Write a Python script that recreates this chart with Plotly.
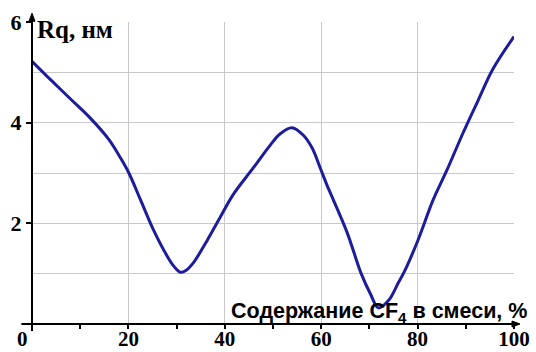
import plotly.graph_objects as go

# data
cf4_percent = [0, 4, 8, 12, 16, 18.3, 20, 22.5, 25.2, 28.1, 29.5, 30.8, 32, 33.5, 36.4, 39.1,
               41.8, 45.9, 49.4, 51.5, 53.9, 56.3, 58.1, 59.8, 61.2, 62.5, 65.4, 68.3, 70.2,
               71.9, 74, 76, 77.3, 80.1, 83.2, 86.1, 89.4, 92.5, 95.6, 100]
rq_nm = [5.22, 4.84, 4.47, 4.10, 3.66, 3.31, 3.02, 2.47, 1.87, 1.34, 1.14, 1.03, 1.07, 1.22,
         1.67, 2.13, 2.58, 3.10, 3.55, 3.78, 3.90, 3.75, 3.50, 3.10, 2.76, 2.47, 1.81, 1.00,
         0.60, 0.32, 0.47, 0.82, 1.05, 1.67, 2.46, 3.06, 3.79, 4.43, 5.06, 5.71]
x_tick_vals = [20, 40, 60, 80, 100]
x_tick_text = ["20", "40", "60", "80", "100"]
y_tick_vals = [2, 4, 6]
y_tick_text = ["2", "4", "6"]
y_title = "Rq, нм"
x_title = "Содержание CF<sub>4</sub> в смеси, %"

fig = go.Figure()
fig.add_trace(go.Scatter(x=cf4_percent, y=rq_nm, mode="lines",
                         line=dict(color="#1c1c9c", width=3, shape="spline", smoothing=1),
                         hoverinfo="skip", showlegend=False))

tick_font = dict(family="Liberation Serif", size=21, color="black", weight="bold")
fig.update_layout(
    width=536, height=352,
    margin=dict(l=31.5, r=22, t=21.7, b=27.5, autoexpand=False),
    plot_bgcolor="white", paper_bgcolor="white",
    xaxis=dict(range=[0, 100], tickvals=x_tick_vals, ticktext=x_tick_text,
               showgrid=True, gridcolor="#c8c8c8", gridwidth=1,
               ticks="outside", ticklen=4, tickwidth=1.5, tickcolor="black",
               ticklabelstandoff=-8,
               minor=dict(dtick=10, tick0=0, ticks="outside", ticklen=4, tickwidth=1.5,
                          tickcolor="black", showgrid=False),
               tickfont=tick_font, showline=False, zeroline=False, fixedrange=True),
    yaxis=dict(range=[0, 6], tickvals=y_tick_vals, ticktext=y_tick_text,
               showgrid=True, gridcolor="#c8c8c8", gridwidth=1,
               ticks="outside", ticklen=5, tickwidth=1.5, tickcolor="black",
               minor=dict(dtick=1, tick0=0, showgrid=True, gridcolor="#c8c8c8", gridwidth=1, ticks=""),
               tickfont=dict(family="Liberation Serif", size=22, color="black", weight="bold"),
               showline=False, zeroline=False, fixedrange=True),
    shapes=[
        # axis lines
        dict(type="line", xref="paper", yref="paper", x0=-0.022, x1=1.0, y0=0, y1=0,
             line=dict(color="black", width=2)),
        dict(type="line", xref="paper", yref="paper", x0=0, x1=0, y0=-0.023, y1=1.005,
             line=dict(color="black", width=2)),
        # arrow heads
        dict(type="path", xref="paper", yref="paper",
             path="M 0.9959 0.0099 L 1.0124 0 L 0.9959 -0.0099 Z",
             fillcolor="black", line=dict(color="black", width=1)),
        dict(type="path", xref="paper", yref="paper",
             path="M -0.0062 1.0026 L 0 1.029 L 0.0062 1.0026 Z",
             fillcolor="black", line=dict(color="black", width=1)),
    ],
    annotations=[
        dict(x=0, y=0, xref="x", yref="y", text="0", showarrow=False,
             xanchor="right", yanchor="top", xshift=-2, yshift=-1, font=tick_font),
        dict(x=0, y=6, xref="x", yref="y", text=y_title, showarrow=False,
             xanchor="left", yanchor="middle", xshift=3, yshift=-7,
             font=dict(family="Liberation Serif", size=25, color="black", weight="bold")),
        dict(x=100, y=0, xref="x", yref="y", text=x_title, showarrow=False,
             xanchor="right", yanchor="bottom", xshift=15, yshift=-4,
             font=dict(family="Liberation Sans", size=21.5, color="black", weight="bold")),
    ],
)
fig.write_html("out.html", config={"displayModeBar": False},
               post_script="document.body.style.margin='0';")
